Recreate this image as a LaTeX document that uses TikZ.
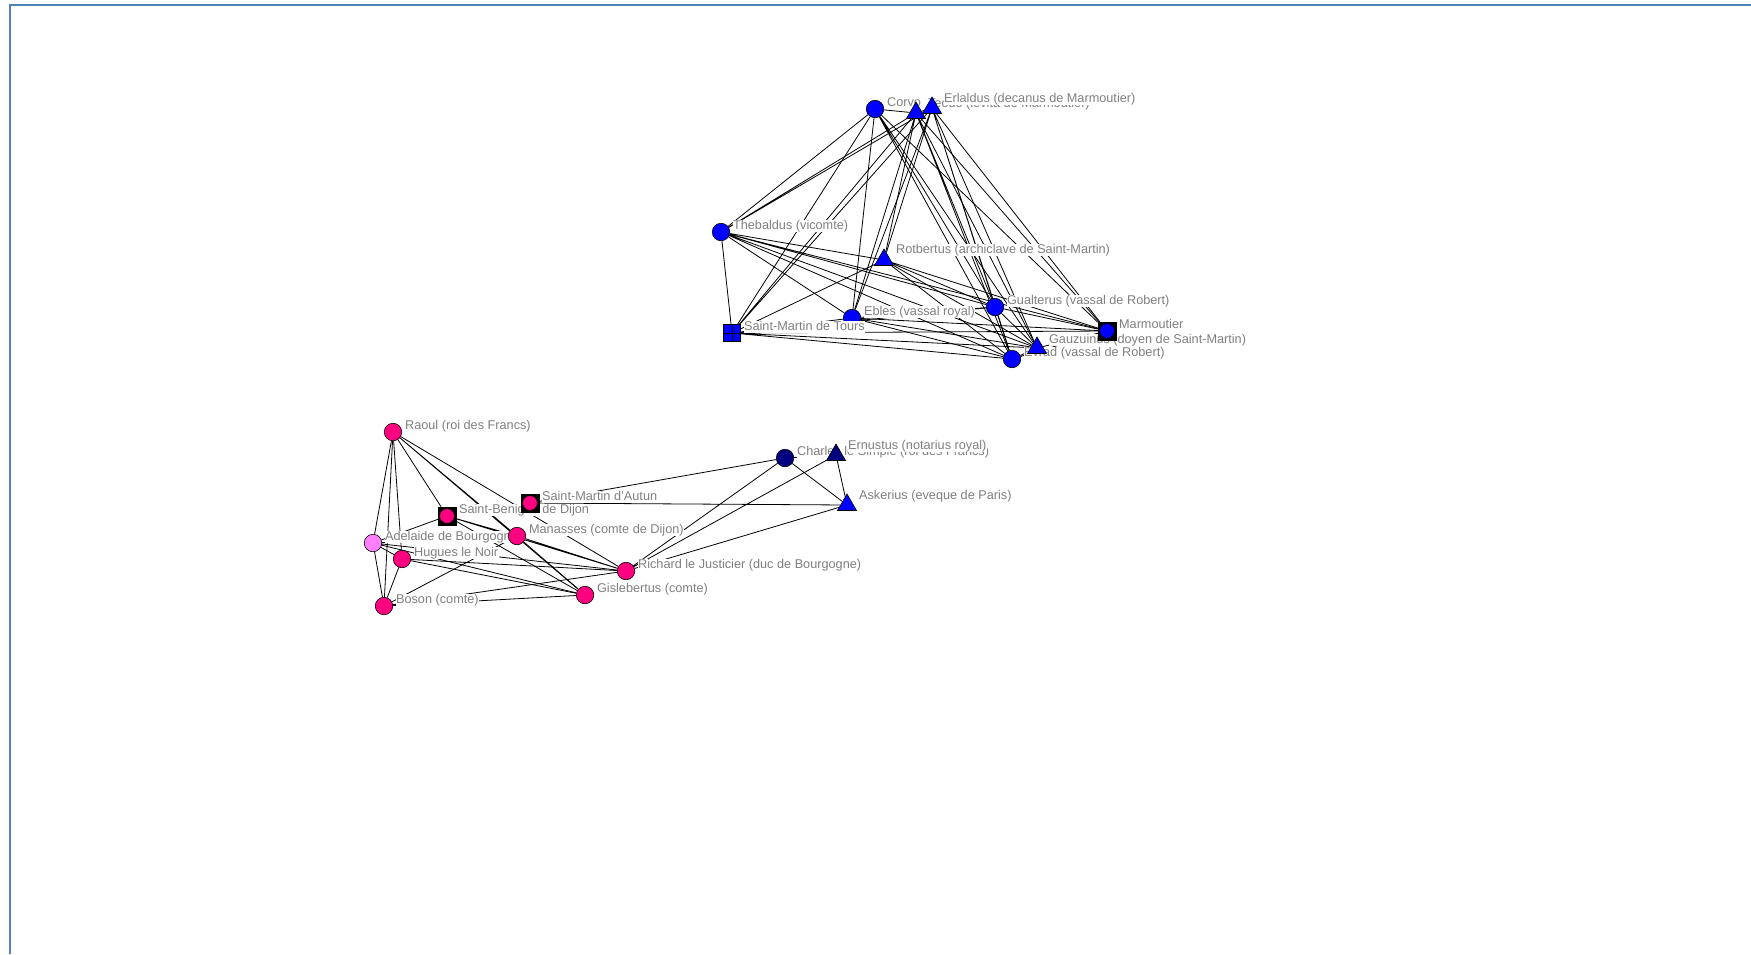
\documentclass[tikz,border=0pt]{standalone}
\usepackage{fontspec}
\setmainfont{Liberation Sans}
\usepackage{tikz}
\usetikzlibrary{positioning,shapes.geometric,backgrounds}
\definecolor{palBlue}{HTML}{0000FF}
\definecolor{palNavy}{HTML}{000080}
\definecolor{palPink}{HTML}{FF0080}
\definecolor{palViolet}{HTML}{FF80FF}
\definecolor{txtGray}{HTML}{808080}
\definecolor{frameBlue}{HTML}{4F81BD}

\begin{document}
\begin{tikzpicture}[
  x=1pt, y=-1pt,
  actor/.style={circle, draw=black, line width=0.6pt, minimum size=17.5pt,
    inner sep=0pt, fill=#1},
  actor/.default=palBlue,
  cleric/.style={regular polygon, regular polygon sides=3, draw=black,
    line width=0.6pt, minimum size=22pt, inner sep=0pt, fill=#1},
  cleric/.default=palBlue,
  abbey/.style={rectangle, draw=black, fill=black, minimum size=18pt, inner sep=0pt,
    path picture={\fill[#1, draw=black, line width=0.4pt]
      (path picture bounding box.center) circle (7.3pt);}},
  chapter/.style={rectangle, draw=black, line width=0.8pt, fill=palBlue,
    minimum size=17pt, inner sep=0pt,
    path picture={\draw[black, line width=0.8pt]
      (path picture bounding box.north) -- (path picture bounding box.south)
      (path picture bounding box.west) -- (path picture bounding box.east);}},
  lbl/.style={fill=white, text=txtGray, inner sep=0.4pt, yshift=#1,
    text height=9.4pt, text depth=2.6pt, font=\fontsize{12.7}{15}\selectfont},
  lbl/.default=6pt,
  edge/.style={draw=black, line width=0.8pt}
]
\useasboundingbox (0,0) rectangle (1751,954);
\draw[frameBlue, line width=2pt] (10,954) -- (10,5) -- (1751,5);

% Tours / Marmoutier
\node[actor] (C) at (875,109) {};
\node[lbl, right=11.5pt of C.center] (Clbl) {Corvo};
\node[cleric] (T1) at (916,113) {};
\node[lbl=9pt, right=11.5pt of T1.center] (T1lbl) {Teodo (levita de Marmoutier)};
\node[cleric] (E) at (932,108) {};
\node[lbl=9pt, right=11.5pt of E.center] (Elbl) {Erlaldus (decanus de Marmoutier)};
\node[actor] (Th) at (721,232) {};
\node[lbl, right=11.5pt of Th.center] (Thlbl) {Thebaldus (vicomte)};
\node[cleric] (R) at (884,260) {};
\node[lbl=10pt, right=11.5pt of R.center] (Rlbl) {Rotbertus (archiclave de Saint-Martin)};
\node[actor] (Eb) at (852,318) {};
\node[lbl, right=11.5pt of Eb.center] (Eblbl) {Ebles (vassal royal)};
\node[chapter] (SMT) at (732,333) {};
\node[lbl, right=11.5pt of SMT.center] (SMTlbl) {Saint-Martin de Tours};
\node[actor] (G) at (995,307) {};
\node[lbl, right=11.5pt of G.center] (Glbl) {Gualterus (vassal de Robert)};
\node[actor] (Cr) at (1012,359) {};
\node[lbl, right=11.5pt of Cr.center] (Crlbl) {Evrad (vassal de Robert)};
\node[cleric] (Gz) at (1037,348) {};
\node[lbl=8pt, right=11.5pt of Gz.center] (Gzlbl) {Gauzuinus (doyen de Saint-Martin)};
\node[abbey=palBlue] (M) at (1107,331) {};
\node[lbl, right=11.5pt of M.center] (Mlbl) {Marmoutier};

% Bourgogne
\node[actor=palPink] (Ra) at (393,432) {};
\node[lbl, right=11.5pt of Ra.center] (Ralbl) {Raoul (roi des Francs)};
\node[actor=palViolet] (Ad) at (373,543) {};
\node[lbl, right=11.5pt of Ad.center] (Adlbl) {Adelaide de Bourgogne};
\node[actor=palPink] (Hu) at (402,559) {};
\node[lbl, right=11.5pt of Hu.center] (Hulbl) {Hugues le Noir};
\node[actor=palPink] (Bo) at (384,606) {};
\node[lbl, right=11.5pt of Bo.center] (Bolbl) {Boson (comte)};
\node[abbey=palPink] (SBD) at (447,516) {};
\node[lbl, right=11.5pt of SBD.center] (SBDlbl) {Saint-Benigne de Dijon};
\node[abbey=palPink] (SMA) at (530,503) {};
\node[lbl, right=11.5pt of SMA.center] (SMAlbl) {Saint-Martin d'Autun};
\node[actor=palPink] (Ma) at (517,536) {};
\node[lbl, right=11.5pt of Ma.center] (Malbl) {Manasses (comte de Dijon)};
\node[actor=palPink] (Gi) at (585,595) {};
\node[lbl, right=11.5pt of Gi.center] (Gilbl) {Gislebertus (comte)};
\node[actor=palPink] (Ri) at (626,571) {};
\node[lbl, right=11.5pt of Ri.center] (Rilbl) {Richard le Justicier (duc de Bourgogne)};
\node[actor=palNavy] (Ch) at (785,458) {};
\node[lbl, right=11.5pt of Ch.center] (Chlbl) {Charles le Simple (roi des Francs)};
\node[cleric=palNavy] (Er) at (836,455) {};
\node[lbl=9pt, right=11.5pt of Er.center] (Erlbl) {Ernustus (notarius royal)};
\node[cleric] (As) at (847,505) {};
\node[lbl=9pt, right=11.5pt of As.center] (Aslbl) {Askerius (eveque de Paris)};

\begin{scope}[on background layer]
\draw[edge] (Th) -- (C) (Th) -- (T1) (Th) -- (E) (Th) -- (R) (Th) -- (Eb)
  (Th) -- (SMT) (Th) -- (G) (Th) -- (Cr) (Th) -- (Gz) (Th) -- (M);
\draw[edge] (SMT) -- (C) (SMT) -- (T1) (SMT) -- (E) (SMT) -- (R) (SMT) -- (Eb)
  (SMT) -- (G) (SMT) -- (M) (SMT) -- (Cr) (SMT) -- (Gz);
\draw[edge] (C) -- (T1) (C) -- (Eb) (C) -- (G) (C) -- (Cr) (C) -- (Gz) (C) -- (M);
\draw[edge] (T1) -- (E) (T1) -- (Eb) (T1) -- (R) (T1) -- (G) (T1) -- (Cr)
  (T1) -- (Gz) (T1) -- (M);
\draw[edge] (E) -- (Eb) (E) -- (R) (E) -- (G) (E) -- (Cr) (E) -- (Gz) (E) -- (M);
\draw[edge] (R) -- (G) (R) -- (M) (R) -- (Gz) (R) -- (Cr);
\draw[edge] (Eb) -- (G) (Eb) -- (M) (Eb) -- (Gz) (Eb) -- (Cr);
\draw[edge] (G) -- (M) (G) -- (Gz) (G) -- (Cr) (Cr) -- (Gz) (Cr) -- (M) (Gz) -- (M);

\draw[edge] (Ra) -- (Ad) (Ra) -- (Hu) (Ra) -- (Bo) (Ra) -- (SBD) (Ra) -- (Ma)
  (Ra) -- (Gi) (Ra) -- (Ri);
\draw[edge] (Ad) -- (Hu) (Ad) -- (Bo) (Ad) -- (SBD) (Ad) -- (Ma) (Ad) -- (Gi) (Ad) -- (Ri);
\draw[edge] (Hu) -- (Bo) (Hu) -- (Gi) (Hu) -- (Ri);
\draw[edge] (Bo) -- (Ma) (Bo) -- (Gi) (Bo) -- (Ri);
\draw[edge] (SBD) -- (Ma) (SBD) -- (Gi) (SBD) -- (Ri) (Ma) -- (Gi) (Ma) -- (Ri);
\draw[edge] (SMA) -- (Ch) (SMA) -- (As) (Ri) -- (Ch) (Ri) -- (Er) (Ri) -- (As)
  (Ch) -- (Er) (Ch) -- (As) (Er) -- (As);
\end{scope}

\end{tikzpicture}
\end{document}
